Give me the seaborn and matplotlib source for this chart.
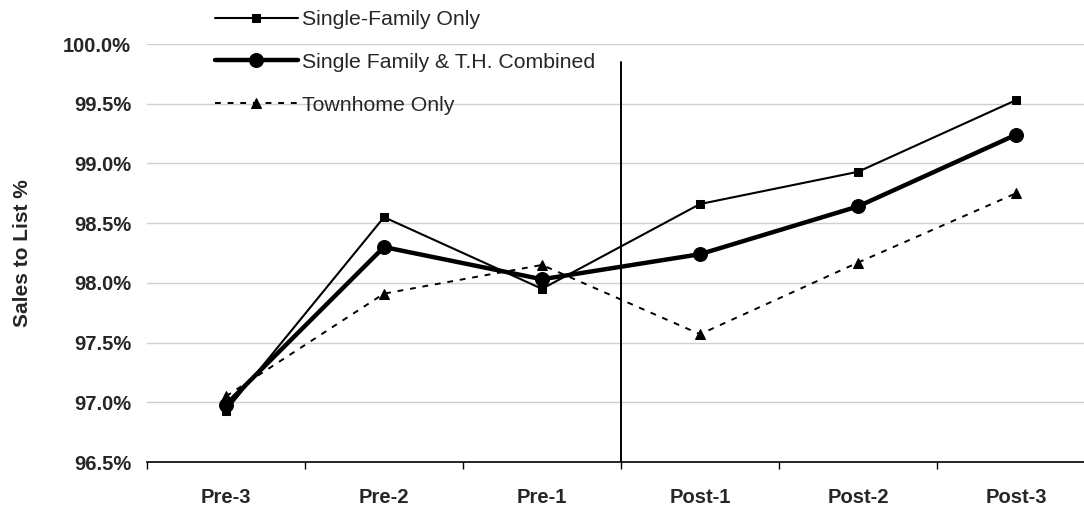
import numpy as np
import pandas as pd
import seaborn as sns
import matplotlib.pyplot as plt
from matplotlib.ticker import FixedLocator, FuncFormatter

# datos
periodos = ["Pre-3", "Pre-2", "Pre-1", "Post-1", "Post-2", "Post-3"]
single_family = [96.93, 98.55, 97.95, 98.66, 98.93, 99.53]
combinado = [96.98, 98.30, 98.03, 98.24, 98.64, 99.24]
townhome = [97.05, 97.91, 98.15, 97.57, 98.17, 98.75]

sns.set_style("white")
plt.rcParams['font.family'] = ['Liberation Sans', 'DejaVu Sans']

fig = plt.figure(figsize=(10.84, 5.08), dpi=100)
ax = fig.add_axes([147 / 1084, 1 - 462 / 508, 948 / 1084, 418 / 508])

x = np.arange(len(periodos))
df = pd.DataFrame({"x": x, "sf": single_family, "comb": combinado, "th": townhome})

sns.lineplot(data=df, x="x", y="sf", ax=ax, color="black", linewidth=1.5,
             marker="s", markersize=6, markeredgecolor="black",
             label="Single-Family Only")
sns.lineplot(data=df, x="x", y="comb", ax=ax, color="black", linewidth=3.2,
             marker="o", markersize=10, markeredgecolor="black",
             label="Single Family & T.H. Combined")
sns.lineplot(data=df, x="x", y="th", ax=ax, color="black", linewidth=1.4,
             marker="^", markersize=7, markeredgecolor="black",
             label="Townhome Only")
ax.lines[-1].set_dashes([3, 3.5])

# linea vertical entre Pre y Post
ax.axvline(2.5, ymin=0, ymax=(99.85 - 96.5) / 3.5, color="black", linewidth=1.4)

ax.set_xlim(-0.5, 5.5)
ax.set_ylim(96.5, 100.0)
ax.set_yticks(np.arange(96.5, 100.01, 0.5))
ax.yaxis.set_major_formatter(FuncFormatter(lambda v, p: f"{v:.1f}%"))
ax.grid(axis="y", color="#d0d0d0", linewidth=1)
ax.set_axisbelow(True)

# ticks en los limites, etiquetas en el centro
ax.xaxis.set_major_locator(FixedLocator(np.arange(-0.5, 5.6, 1)))
ax.xaxis.set_major_formatter(FuncFormatter(lambda v, p: ""))
ax.xaxis.set_minor_locator(FixedLocator(x))
ax.set_xticklabels(periodos, minor=True)
ax.tick_params(axis="x", which="major", length=5, width=1, color="black", direction="out", bottom=True)
ax.tick_params(axis="x", which="minor", length=0, pad=19, labelsize=14.5)
for lbl in ax.get_xticklabels(minor=True):
    lbl.set_fontweight("bold")
ax.tick_params(axis="y", length=0, pad=11.5, labelsize=14.5)
for lbl in ax.get_yticklabels():
    lbl.set_fontweight("bold")

for s in ["top", "right", "left"]:
    ax.spines[s].set_visible(False)
ax.spines["bottom"].set_color("black")
ax.spines["bottom"].set_linewidth(1.2)

ax.set_xlabel("")
ax.set_ylabel("Sales to List %", fontsize=15, fontweight="bold")
ax.yaxis.set_label_coords(-115 / 948, 0.5)

ax.legend(loc="upper left", bbox_to_anchor=(215 / 1084, 1 - 10 / 508),
          bbox_transform=fig.transFigure, frameon=False, fontsize=15.3,
          handlelength=3.9, handletextpad=0.2, labelspacing=1.12,
          borderpad=0, borderaxespad=0)

fig.savefig("out.png", dpi=100)
